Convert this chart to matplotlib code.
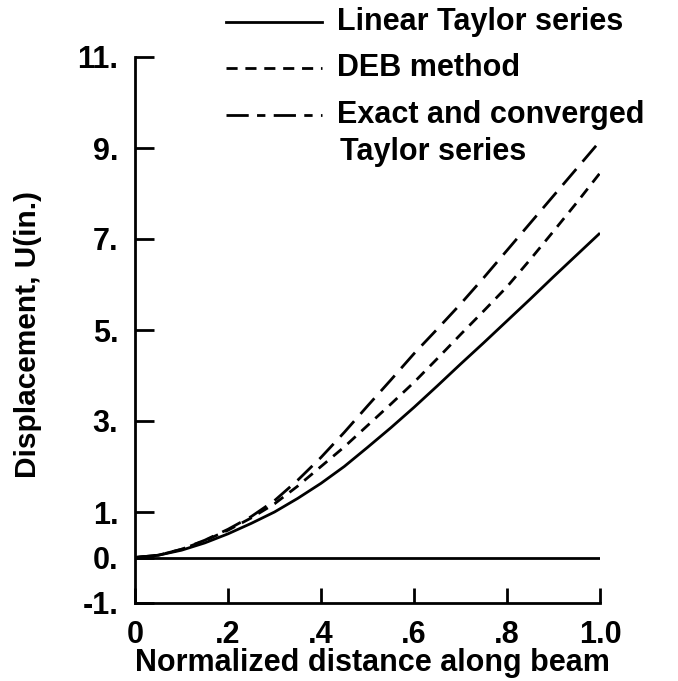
import matplotlib
matplotlib.use("Agg")
import matplotlib.pyplot as plt
from matplotlib.lines import Line2D

plt.rcParams['font.family'] = ['Liberation Sans', 'DejaVu Sans']
plt.rcParams['font.weight'] = 'bold'

# Data
x = [0.0, 0.05, 0.1, 0.15, 0.2, 0.25, 0.3, 0.35, 0.4, 0.45, 0.5,
     0.55, 0.6, 0.65, 0.7, 0.75, 0.8, 0.85, 0.9, 0.95, 1.0]
linear_taylor = [0, 0.05, 0.16, 0.32, 0.52, 0.75, 1.0, 1.3, 1.63, 2.0, 2.42,
                 2.85, 3.3, 3.77, 4.25, 4.72, 5.2, 5.68, 6.17, 6.65, 7.13]
deb_method = [0, 0.05, 0.18, 0.37, 0.6, 0.87, 1.18, 1.57, 2.0, 2.43, 2.9,
              3.37, 3.85, 4.37, 4.9, 5.42, 5.95, 6.55, 7.17, 7.8, 8.45]
exact = [0, 0.05, 0.18, 0.38, 0.62, 0.9, 1.25, 1.7, 2.2, 2.75, 3.33,
         3.9, 4.48, 5.02, 5.57, 6.15, 6.75, 7.35, 7.95, 8.55, 9.15]
zero_x = [0.0, 1.0]
zero_y = [0.0, 0.0]

xticks = [0, 0.2, 0.4, 0.6, 0.8, 1.0]
xticklabels = ["0", ".2", ".4", ".6", ".8", "1.0"]
yticks = [-1, 0, 1, 3, 5, 7, 9, 11]
yticklabels = ["-1.", "0.", "1.", "3.", "5.", "7.", "9.", "11."]

W, H = 678, 681
fig = plt.figure(figsize=(W / 100, H / 100), dpi=100)
L, R, T, B = 135, 600, 57, 603
ax = fig.add_axes([L / W, 1 - B / H, (R - L) / W, (B - T) / H])

lw = 2.0
ax.plot(x, linear_taylor, color='black', lw=lw, solid_capstyle='butt')
ax.plot(x, deb_method, color='black', lw=lw, dashes=(4, 2.8))
ax.plot(x, exact, color='black', lw=lw, dashes=(7.5, 3.5))
ax.plot(zero_x, zero_y, color='black', lw=lw)

ax.set_xlim(0, 1)
ax.set_ylim(-1, 11)
for s in ['top', 'right']:
    ax.spines[s].set_visible(False)
for s in ['left', 'bottom']:
    ax.spines[s].set_linewidth(2.0)

ax.set_xticks(xticks)
ax.set_xticklabels(xticklabels, fontsize=22, fontweight='bold')
ax.set_yticks(yticks)
ax.set_yticklabels(yticklabels, fontsize=22, fontweight='bold')
ax.tick_params(axis='x', direction='in', length=11, width=2.0, pad=12)
ax.tick_params(axis='y', direction='in', length=14, width=2.0, pad=12)

ax.set_xlabel("Normalized distance along beam", fontsize=22, fontweight='bold',
              va='center', ha='center')
ax.xaxis.set_label_coords((372 - L) / (R - L), (B - 663) / (B - T))
ax.set_ylabel("Displacement, U(in.)", fontsize=21.5, fontweight='bold',
              va='center', ha='center')
ax.yaxis.set_label_coords((28 - L) / (R - L), (B - 335) / (B - T))

# Legend drawn manually in figure pixel coordinates
def fx(px):
    return px / W

def fy(py):
    return 1 - py / H

legend_rows = [
    (22, dict(linestyle='-'), "Linear Taylor series"),
    (68, dict(dashes=(4, 2.8)), "DEB method"),
    (115, dict(dashes=(8, 3, 3, 3)), "Exact and converged"),
]
for py, style, label in legend_rows:
    fig.add_artist(Line2D([fx(226), fx(322)], [fy(py), fy(py)], color='black',
                          lw=lw, **style))
    fig.text(fx(337), fy(py), label, fontsize=22, fontweight='bold',
             va='center', ha='left')
fig.text(fx(340), fy(152), "Taylor series", fontsize=22, fontweight='bold',
         va='center', ha='left')

fig.savefig("out.png", dpi=100)
